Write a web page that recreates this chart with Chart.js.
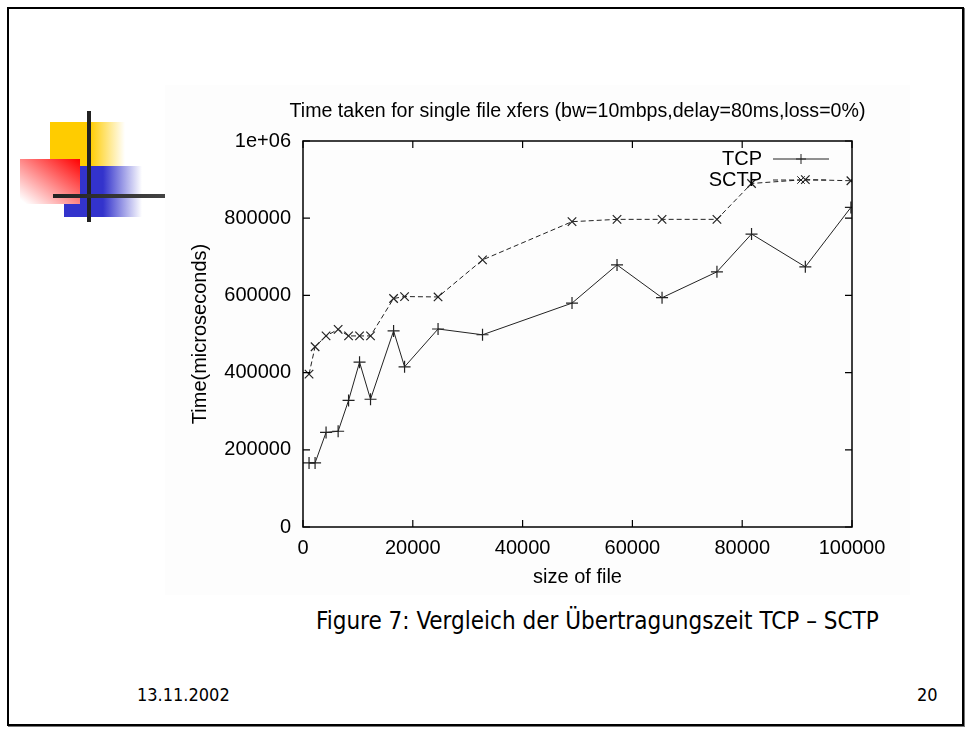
<!DOCTYPE html>
<html>
<head>
<meta charset="utf-8">
<script src="https://cdn.jsdelivr.net/npm/chart.js@4"></script>
<style>
  body { margin: 0; background: #fff; width: 968px; height: 731px; position: relative; overflow: hidden; }
  .frame { position: absolute; left: 7px; top: 7px; width: 953px; height: 715px; border: 2px solid #000; box-shadow: 1px 1px 0 #777; }
  .logo div { position: absolute; }
  .yellow { left: 50px; top: 122px; width: 75px; height: 45px; background: linear-gradient(to right, #ffcc00 0, #ffcc00 40px, #ffffff 75px); }
  .blue { left: 64px; top: 166px; width: 78px; height: 51px; background: linear-gradient(to right, #3333cc 0, #3333cc 39px, #ffffff 78px); }
  .red { left: 20px; top: 159px; width: 60px; height: 45px; background: linear-gradient(to bottom left, #ff0000 0%, #ffffff 95%); }
  .vbar { left: 87px; top: 111px; width: 4px; height: 111px; background: #222; }
  .hbar { left: 53px; top: 194px; width: 116px; height: 4px; background: linear-gradient(to right, #222, #444); }
  #wrap { position: absolute; left: 165px; top: 85px; width: 745px; height: 510px; background: #fdfdfd; }
  .caption { position: absolute; left: 316px; top: 607px; font-family: "DejaVu Sans Condensed", "DejaVu Sans", sans-serif; font-size: 24px; color: #000; white-space: nowrap; }
  .date { position: absolute; left: 137px; top: 684px; font-family: "DejaVu Sans Condensed", sans-serif; font-size: 18px; }
  .page { position: absolute; left: 917px; top: 684px; font-family: "DejaVu Sans Condensed", sans-serif; font-size: 18px; }
</style>
</head>
<body>
<div class="frame"></div>
<div class="logo">
  <div class="yellow"></div>
  <div class="blue"></div>
  <div class="red"></div>
  <div class="vbar"></div>
  <div class="hbar"></div>
</div>
<div id="wrap"><canvas id="chart" width="745" height="510"></canvas></div>
<div class="caption">Figure 7: Vergleich der Übertragungszeit TCP – SCTP</div>
<div class="date">13.11.2002</div>
<div class="page">20</div>
<script>
// file sizes (bytes) and transfer times (microseconds)
const fileSizes = [1100, 2200, 4200, 6400, 8300, 10300, 12300, 16500, 18500, 24600, 32700, 49000, 57200, 65400, 75400, 81700, 91500, 99800];
const tcpTimes = [166000, 166000, 245000, 248000, 328000, 427000, 331000, 508000, 415000, 513000, 498000, 580000, 679000, 594000, 661000, 759000, 674000, 828000];
const sctpTimes = [396000, 467000, 495000, 512000, 495000, 495000, 495000, 592000, 597000, 596000, 692000, 791000, 797000, 797000, 797000, 890000, 900000, 897000];
const xTicks = [0, 20000, 40000, 60000, 80000, 100000];
const yTicks = [0, 200000, 400000, 600000, 800000, 1000000];
const chartTitle = "Time taken for single file xfers (bw=10mbps,delay=80ms,loss=0%)";

const font = { family: "'Liberation Sans', Arial, sans-serif", size: 20 };
const ink = "#222";

function points(ys) {
  return fileSizes.map((x, i) => ({ x: x, y: ys[i] }));
}

// gnuplot style box: inner ticks on all sides, title over the plot, key in the top right corner
const gnuplotFrame = {
  id: "gnuplotFrame",
  afterDraw(chart) {
    const ctx = chart.ctx;
    const a = chart.chartArea;
    const xs = chart.scales.x, ys = chart.scales.y;
    ctx.save();
    ctx.strokeStyle = "#000";
    ctx.lineWidth = 1.5;
    ctx.strokeRect(a.left, a.top, a.right - a.left, a.bottom - a.top);
    ctx.lineWidth = 1.2;
    ctx.beginPath();
    xTicks.forEach((v) => {
      const px = xs.getPixelForValue(v);
      ctx.moveTo(px, a.bottom); ctx.lineTo(px, a.bottom - 7);
      ctx.moveTo(px, a.top); ctx.lineTo(px, a.top + 7);
    });
    yTicks.forEach((v) => {
      const py = ys.getPixelForValue(v);
      ctx.moveTo(a.left, py); ctx.lineTo(a.left + 7, py);
      ctx.moveTo(a.right, py); ctx.lineTo(a.right - 7, py);
    });
    ctx.stroke();

    ctx.fillStyle = "#000";
    ctx.textBaseline = "middle";

    // title
    ctx.font = "19.6px 'Liberation Sans', Arial, sans-serif";
    ctx.textAlign = "center";
    ctx.fillText(chartTitle, (a.left + a.right) / 2, a.top - 29);

    // key
    ctx.font = "20px 'Liberation Sans', Arial, sans-serif";
    ctx.textAlign = "right";
    const textRight = a.right - 90;
    const lineL = a.right - 79, lineR = a.right - 23;
    chart.data.datasets.forEach((ds, i) => {
      const y = a.top + 18 + i * 21;
      ctx.fillText(ds.label, textRight, y);
      ctx.strokeStyle = ds.borderColor;
      ctx.lineWidth = 1;
      ctx.setLineDash(ds.borderDash || []);
      ctx.beginPath();
      ctx.moveTo(lineL, y); ctx.lineTo(lineR, y);
      ctx.stroke();
      ctx.setLineDash([]);
      const cx = (lineL + lineR) / 2, r = 5;
      ctx.beginPath();
      if (ds.pointStyle === "cross") {
        ctx.moveTo(cx - r, y); ctx.lineTo(cx + r, y);
        ctx.moveTo(cx, y - r); ctx.lineTo(cx, y + r);
      } else {
        ctx.moveTo(cx - r * 0.75, y - r * 0.75); ctx.lineTo(cx + r * 0.75, y + r * 0.75);
        ctx.moveTo(cx - r * 0.75, y + r * 0.75); ctx.lineTo(cx + r * 0.75, y - r * 0.75);
      }
      ctx.stroke();
    });
    ctx.restore();
  },
};

new Chart(document.getElementById("chart"), {
  type: "line",
  data: {
    datasets: [
      {
        label: "TCP",
        data: points(tcpTimes),
        borderColor: ink,
        borderWidth: 1,
        pointStyle: "cross",
        pointRadius: 6,
        pointBorderColor: ink,
        pointBorderWidth: 1.2,
        fill: false,
        tension: 0,
      },
      {
        label: "SCTP",
        data: points(sctpTimes),
        borderColor: ink,
        borderWidth: 1,
        borderDash: [5, 3],
        pointStyle: "crossRot",
        pointRadius: 6,
        pointBorderColor: ink,
        pointBorderWidth: 1.2,
        fill: false,
        tension: 0,
      },
    ],
  },
  options: {
    responsive: false,
    animation: false,
    layout: { padding: { left: 0, right: 58, top: 56, bottom: 0 } },
    plugins: {
      legend: { display: false },
      tooltip: { enabled: false },
      title: { display: false },
    },
    scales: {
      x: {
        type: "linear",
        min: 0,
        max: 100000,
        afterBuildTicks: (s) => { s.ticks = xTicks.map((v) => ({ value: v })); },
        afterFit: (s) => { s.height = 68; },
        grid: { display: false, drawTicks: false },
        border: { display: false },
        ticks: { color: "#000", font: font, padding: 9, maxRotation: 0, callback: (v) => String(v) },
        title: { display: true, text: "size of file", color: "#000", font: font, padding: { top: 0, bottom: 6 } },
      },
      y: {
        type: "linear",
        min: 0,
        max: 1000000,
        afterBuildTicks: (s) => { s.ticks = yTicks.map((v) => ({ value: v })); },
        afterFit: (s) => { s.width = 138; },
        grid: { display: false, drawTicks: false },
        border: { display: false },
        ticks: {
          color: "#000",
          font: font,
          padding: 12,
          callback: (v) => (v === 1000000 ? "1e+06" : String(v)),
        },
        title: { display: true, text: "Time(microseconds)", color: "#000", font: font, padding: { top: 23, bottom: 0 } },
      },
    },
  },
  plugins: [gnuplotFrame],
});
</script>
</body>
</html>
